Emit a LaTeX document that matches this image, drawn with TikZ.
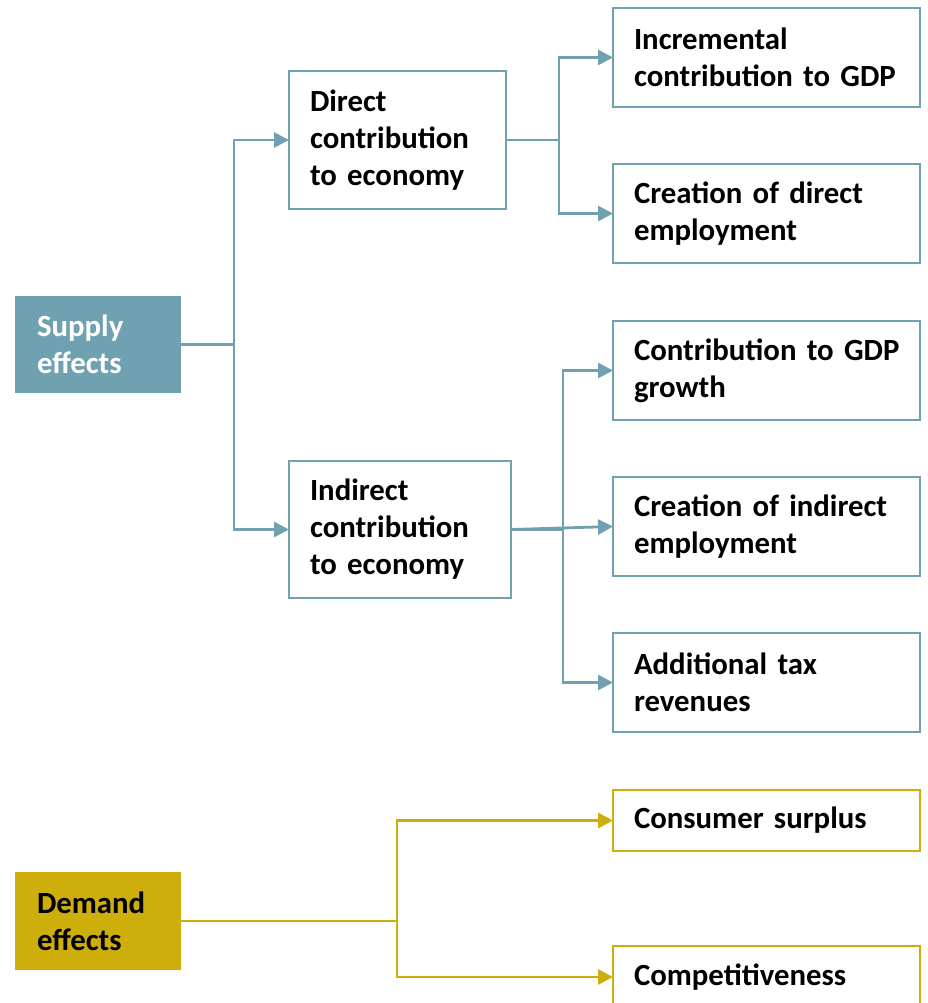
\documentclass[tikz,border=0pt]{standalone}
\usepackage{fontspec}
\setmainfont{Carlito}
\usetikzlibrary{arrows.meta}
\definecolor{supplyblue}{HTML}{6FA1B0}
\definecolor{demandgold}{HTML}{CDAE0B}

\begin{document}
\begin{tikzpicture}[x=1pt,y=-1pt,
    box/.style={draw=#1,line width=2.8pt,outer sep=0pt,anchor=north west,align=left,
      inner xsep=21pt,inner ysep=0pt,font=\bfseries\fontsize{30.8}{37}\selectfont},
    sbox/.style={box=supplyblue,text width=#1,minimum height=99pt},
    rbox/.style={sbox=265pt},
    gbox/.style={box=demandgold,text width=265pt},
    link/.style={draw=#1,line width=2.8pt,-{Triangle[length=15pt,width=15pt]}},
    slink/.style={link=supplyblue},
    dlink/.style={link=demandgold}]
  \useasboundingbox (0,0) rectangle (928,1003);

  \node[box=supplyblue,fill=supplyblue,text=white,text width=122pt,minimum height=95pt] (sup) at (16,297) {Supply\\effects};
  \node[box=demandgold,fill=demandgold,text width=122pt,minimum height=96pt] (dem) at (16,873) {Demand\\effects};

  \node[sbox=175pt,minimum height=138pt] (dir) at (289,71) {Direct\\contribution\\to economy};
  \node[sbox=180pt,minimum height=137pt] (ind) at (289,461) {Indirect\\contribution\\to economy};

  \node[rbox] (inc) at (613,8) {Incremental\\contribution to GDP};
  \node[rbox] (cde) at (613,164) {Creation of direct\\employment};
  \node[rbox] (gdp) at (613,321) {\mbox{Contribution to GDP}\\growth};
  \node[rbox] (cie) at (613,477) {Creation of indirect\\employment};
  \node[rbox] (tax) at (613,633) {Additional tax\\revenues};
  \node[gbox,minimum height=61pt] (cs) at (613,790) {Consumer surplus};
  \node[gbox,minimum height=62pt] (comp) at (613,946) {Competitiveness};

  \draw[slink] (sup.east) -- ++(54,0) |- (dir.west);
  \draw[slink] (sup.east) -- ++(54,0) |- (ind.west);
  \draw[slink] (dir.east) -- ++(53,0) |- (inc.west);
  \draw[slink] (dir.east) -- ++(53,0) |- (cde.west);
  \draw[slink] (ind.east) -- ++(52,0) |- (gdp.west);
  \draw[slink] (ind.east) -- (cie.west);
  \draw[slink] (ind.east) -- ++(52,0) |- (tax.west);
  \draw[dlink] (dem.east) -- ++(217,0) |- (cs.west);
  \draw[dlink] (dem.east) -- ++(217,0) |- (comp.west);
\end{tikzpicture}
\end{document}
